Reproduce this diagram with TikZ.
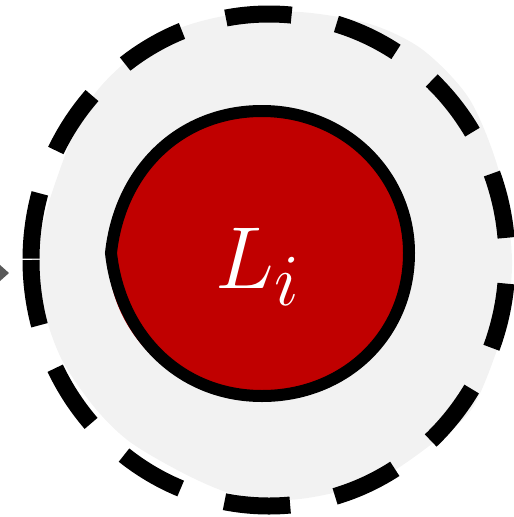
\documentclass[tikz,border=0pt]{standalone}
\usepackage{amsmath}
\usetikzlibrary{arrows.meta}
\definecolor{haze}{HTML}{F2F2F2}
\definecolor{corered}{HTML}{C00000}
\definecolor{tipgray}{HTML}{595959}

\begin{document}
\begin{tikzpicture}[x=1pt, y=-1pt, >=Triangle]
  \useasboundingbox (0,0) rectangle (514,517);
  \clip (0,0) rectangle (514,517);
  % light halo behind the boundary
  \fill[haze] plot[smooth cycle] coordinates {
    (38,260) (48,205) (83,112) (120,67) (173,31) (230,15) (300,12)
    (370,24) (423,50) (470,100) (500,175) (512,260) (503,330) (473,407)
    (433,443) (383,477) (333,493) (285,500) (230,493) (183,473)
    (130,442) (95,408) (62,360) (44,310)};
  % dashed boundary
  \draw[line width=17pt, dash pattern=on 66pt off 45.8pt]
    (31,260) arc[start angle=180, end angle=-180, x radius=238, y radius=246];
  % core
  \fill[corered] (261,254) ellipse[x radius=153, y radius=145];
  \draw[line width=12pt]
    (111,253) .. controls (120,170) and (180,111) .. (262,111)
    .. controls (345,111) and (409,175) .. (409,253)
    .. controls (409,335) and (345,396) .. (262,396)
    .. controls (180,396) and (120,335) .. cycle;
  \node[text=white, font=\Huge, scale=3.54, anchor=base] (Li) at (258,288) {$L_i$};
  % incoming arrow (only its tip shows)
  \coordinate (feed) at (-40,273);
  \coordinate (entry) at (9,273);
  \draw[tipgray, line width=2pt, -{Triangle[length=12pt,width=21pt]}] (feed) -- (entry);
\end{tikzpicture}
\end{document}
